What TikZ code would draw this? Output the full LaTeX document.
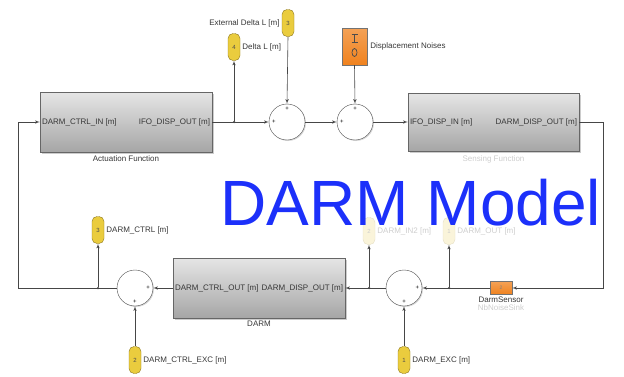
\documentclass[tikz,border=0pt]{standalone}
\usepackage{fontspec}
\setmainfont{Liberation Sans}
\usepackage{xcolor}
\usetikzlibrary{shapes.geometric, arrows, positioning, shadows, backgrounds}
\definecolor{wireclr}{RGB}{70, 70, 70}
\definecolor{textclr}{RGB}{55, 55, 55}
\definecolor{fadedtext}{RGB}{205, 205, 205}
\definecolor{portyellow}{RGB}{234, 204, 62}
\definecolor{portedge}{RGB}{140, 118, 30}
\definecolor{fadedyellow}{RGB}{250, 244, 218}
\definecolor{fadededge}{RGB}{228, 222, 196}
\definecolor{noiseorange}{RGB}{240, 130, 30}
\definecolor{titleblue}{RGB}{28, 48, 250}

\begin{document}
\begin{tikzpicture}[x=1pt, y=1pt,
    subsys/.style={rectangle, draw=black!60, top color=black!10, bottom color=black!35, minimum width=172pt, minimum height=60pt, drop shadow={shadow xshift=1.5pt, shadow yshift=-1.5pt, fill=black!40}},
    sumblk/.style={circle, draw=black!70, fill=white, minimum size=36pt, inner sep=0pt, drop shadow={shadow xshift=1pt, shadow yshift=-1pt, fill=black!30}},
    port/.style={rectangle, rounded corners=5pt, draw=portedge, fill=portyellow, minimum width=12pt, minimum height=27pt, inner sep=0pt, font=\fontsize{6}{6}\selectfont, text=black!70},
    fadedport/.style={port, draw=fadededge, fill=fadedyellow, text=fadedtext},
    orangeblk/.style={rectangle, draw=black!55, top color=noiseorange!75, bottom color=noiseorange, inner sep=0pt},
    lbl/.style={font=\fontsize{8}{9}\selectfont, text=textclr, inner sep=1pt},
    fadedlbl/.style={lbl, text=fadedtext},
    sgn/.style={font=\fontsize{6}{6}\selectfont, inner sep=0pt, text=black},
    dot/.style={circle, fill=wireclr, inner sep=0pt, minimum size=2.5pt},
    line/.style={draw=wireclr, -latex', line width=0.6pt}]

    \useasboundingbox (0,0) rectangle (624,376);

    % forward path
    \node [subsys] (act) at (126,254) {};
    \node [lbl, anchor=west] (actin) at ([xshift=1pt]act.west) {DARM\_CTRL\_IN [m]};
    \node [lbl, anchor=east] (actout) at ([xshift=-1pt]act.east) {IFO\_DISP\_OUT [m]};
    \node [lbl, below=2pt of act] (actname) {Actuation Function};

    \node [sumblk] (sum1) at (287,254) {};
    \node [sgn, below=3pt of sum1.north] (sum1p1) {+};
    \node [sgn, right=3pt of sum1.west] (sum1p2) {+};
    \node [sumblk] (sum2) at (355,254) {};
    \node [sgn, below=3pt of sum2.north] (sum2p1) {+};
    \node [sgn, right=3pt of sum2.west] (sum2p2) {+};

    \node [subsys, minimum width=171pt, minimum height=58pt] (sense) at (493.5,254) {};
    \node [lbl, anchor=west] (sensein) at ([xshift=1pt]sense.west) {IFO\_DISP\_IN [m]};
    \node [lbl, anchor=east] (senseout) at ([xshift=-1pt]sense.east) {DARM\_DISP\_OUT [m]};
    \node [fadedlbl, below=3pt of sense] (sensename) {Sensing Function};

    \node [port] (dl) at (234,329) {4};
    \node [lbl, right=1pt of dl] (dllbl) {Delta L [m]};
    \node [port] (extdl) at (288,353) {3};
    \node [lbl, left=1pt of extdl] (extdllbl) {External Delta L [m]};

    \node [orangeblk, minimum width=25pt, minimum height=37pt] (noise) at (354.5,329.5) {};
    \node [lbl, right=2pt of noise] (noiselbl) {Displacement Noises};
    \draw [black!70, line width=0.7pt] ([yshift=4pt]noise.center) -- ([yshift=12pt]noise.center)
        ([xshift=-3pt,yshift=4pt]noise.center) -- ([xshift=3pt,yshift=4pt]noise.center)
        ([xshift=-3pt,yshift=12pt]noise.center) -- ([xshift=3pt,yshift=12pt]noise.center);
    \draw [black!70, line width=0.7pt] ([yshift=-6pt]noise.center) ellipse (2.5pt and 4pt);

    % feedback path
    \node [subsys] (darm) at (259,88) {};
    \node [lbl, anchor=west] (darmin) at ([xshift=1pt]darm.west) {DARM\_CTRL\_OUT [m]};
    \node [lbl, anchor=east] (darmout) at ([xshift=-1pt]darm.east) {DARM\_DISP\_OUT [m]};
    \node [lbl, below=2pt of darm] (darmname) {DARM};

    \node [sumblk] (sum3) at (404,88) {};
    \node [sgn, left=3pt of sum3.east] (sum3p1) {+};
    \node [sgn, above=3pt of sum3.south] (sum3p2) {+};
    \node [sumblk] (sum4) at (135,88) {};
    \node [sgn, left=3pt of sum4.east] (sum4p1) {+};
    \node [sgn, above=3pt of sum4.south] (sum4p2) {+};

    \node [orangeblk, minimum width=22pt, minimum height=13pt, font=\fontsize{5}{5}\selectfont, text=black!50] (sensor) at (501,88) {2};
    \node [lbl, below=1pt of sensor] (sensorlbl) {DarmSensor};
    \node [fadedlbl, below=0pt of sensorlbl] (sinklbl) {NbNoiseSink};

    \node [fadedport] (in2) at (369,145) {2};
    \node [fadedlbl, right=1pt of in2] (in2lbl) {DARM\_IN2 [m]};
    \node [fadedport] (out) at (449,145) {1};
    \node [fadedlbl, right=1pt of out] (outlbl) {DARM\_OUT [m]};

    \node [port] (ctrl) at (98,146) {3};
    \node [lbl, right=1pt of ctrl] (ctrllbl) {DARM\_CTRL [m]};
    \node [port] (exc) at (404,16) {1};
    \node [lbl, right=1pt of exc] (exclbl) {DARM\_EXC [m]};
    \node [port] (ctrlexc) at (135,16) {2};
    \node [lbl, right=1pt of ctrlexc] (ctrlexclbl) {DARM\_CTRL\_EXC [m]};

    % branch points
    \node [dot] (b1) at (234,254) {};
    \node [dot] (b2) at (369,88) {};
    \node [dot] (b3) at (449,88) {};
    \node [dot] (b4) at (98,88) {};
    \coordinate (cl) at (18,88);
    \coordinate (cr) at (603,88);

    \path [line] (act.east) -- (sum1.west);
    \path [line] (b1) -- (dl.south);
    \path [line] (extdl.south) -- (sum1.north);
    \path [line] (sum1.east) -- (sum2.west);
    \path [line] (noise.south) -- (sum2.north);
    \path [line] (sum2.east) -- (sense.west);
    \path [line] (sense.east) -| (cr) -- (sensor.east);
    \path [line] (sensor.west) -- (sum3.east);
    \path [line] (b3) -- (out.south);
    \path [line] (sum3.west) -- (darm.east);
    \path [line] (b2) -- (in2.south);
    \path [line] (exc.north) -- (sum3.south);
    \path [line] (darm.west) -- (sum4.east);
    \path [line] (ctrlexc.north) -- (sum4.south);
    \path [line] (b4) -- (ctrl.south);
    \path [line] (sum4.west) -- (cl) |- (act.west);

    \node [font=\fontsize{64}{64}\selectfont, text=titleblue, anchor=base, inner sep=0pt] (title) at (411,151) {DARM Model};
\end{tikzpicture}
\end{document}
